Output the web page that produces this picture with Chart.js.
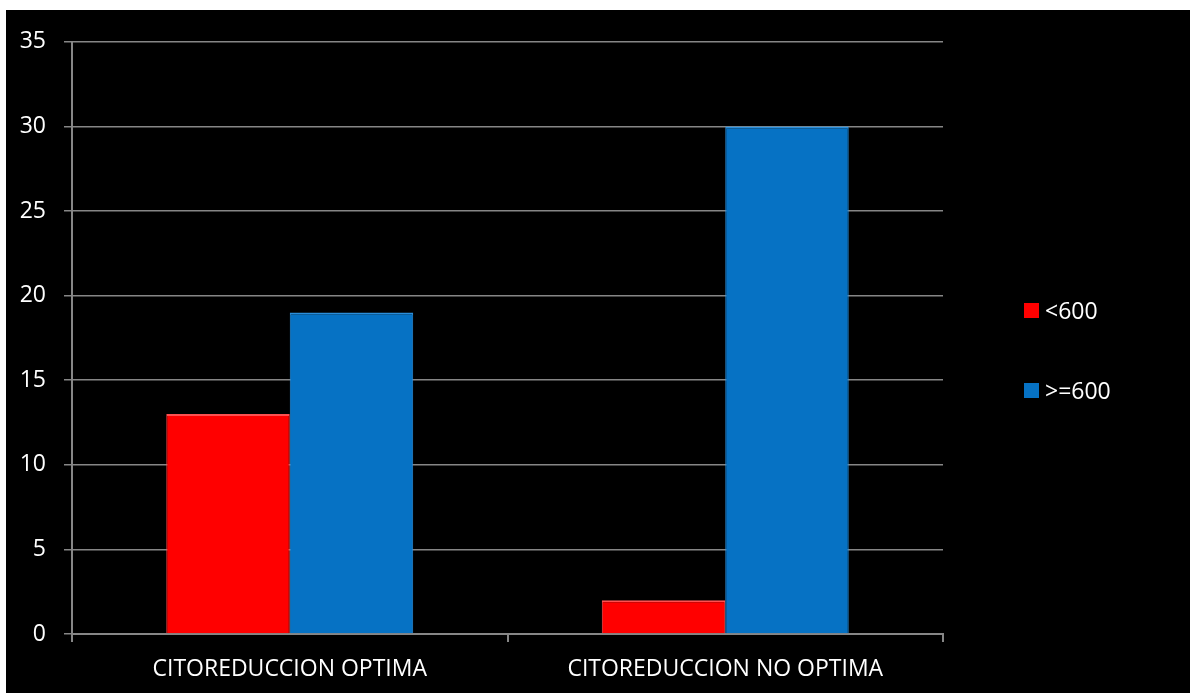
<!DOCTYPE html>
<html>
<head>
<meta charset="utf-8">
<script src="https://cdn.jsdelivr.net/npm/chart.js@4/dist/chart.umd.min.js"></script>
<style>
  html, body { margin: 0; padding: 0; background: #ffffff; width: 1190px; height: 693px; overflow: hidden; }
  #wrap { position: absolute; left: 6px; top: 10px; width: 1184px; height: 683px; background: #000000; }
  #c { position: absolute; left: 0; top: 0; }
  .leg { position: absolute; font-family: "Open Sans", sans-serif; font-size: 23px; color: #ffffff; line-height: 23px; white-space: nowrap; }
  .leg span.sw { position: absolute; left: 0; top: 4px; width: 15px; height: 15px; }
  .leg span.tx { position: absolute; left: 21px; top: 0; }
</style>
</head>
<body>
<div id="wrap">
  <canvas id="c" width="1184" height="683"></canvas>
</div>
<script>
const categories = ["CITOREDUCCION OPTIMA", "CITOREDUCCION NO OPTIMA"];
const seriesNames = ["<600", ">=600"];
const seriesLow = [13, 2];
const seriesHigh = [19, 30];
const seriesColors = ["#FF0000", "#0672C4"];
const yTicks = [0, 5, 10, 15, 20, 25, 30, 35];

const FONT = { family: "'Open Sans', sans-serif", size: 23 };
const GRID = "#868686";

new Chart(document.getElementById("c"), {
  type: "bar",
  data: {
    labels: categories,
    datasets: [
      { label: seriesNames[0], data: seriesLow, backgroundColor: seriesColors[0], borderColor: "#FF5050", borderWidth: { top: 2, left: 1, right: 1, bottom: 0 }, borderSkipped: false },
      { label: seriesNames[1], data: seriesHigh, backgroundColor: seriesColors[1], borderColor: "#2A8FDC", borderWidth: { top: 2, left: 1, right: 1, bottom: 0 }, borderSkipped: false }
    ]
  },
  options: {
    responsive: false,
    animation: false,
    layout: { padding: { left: 0, right: 247, top: 29, bottom: 0 } },
    plugins: { legend: { display: false }, tooltip: { enabled: false } },
    datasets: { bar: { categoryPercentage: 0.567, barPercentage: 1.0 } },
    scales: {
      x: {
        offset: true,
        grid: { offset: true, drawOnChartArea: false, drawTicks: true, tickLength: 8, color: GRID, lineWidth: 2 },
        border: { display: true, color: GRID, width: 2 },
        ticks: { color: "#ffffff", font: FONT, padding: 14, maxRotation: 0, autoSkip: false },
        afterFit: (s) => { s.height = 59; }
      },
      y: {
        min: 0, max: 35,
        afterBuildTicks: (s) => { s.ticks = yTicks.map(v => ({ value: v })); },
        grid: { drawOnChartArea: true, drawTicks: true, tickLength: 8, color: GRID, lineWidth: 1.5 },
        border: { display: true, color: GRID, width: 2 },
        ticks: { color: "#ffffff", font: FONT, padding: 18 },
        afterFit: (s) => { s.width = 66; }
      }
    }
  }
});

// HTML legend built from the series arrays
const wrap = document.getElementById("wrap");
const legTops = [289, 369];
seriesNames.forEach((name, i) => {
  const d = document.createElement("div");
  d.className = "leg";
  d.style.left = "1018px";
  d.style.top = legTops[i] + "px";
  const sw = document.createElement("span");
  sw.className = "sw";
  sw.style.background = seriesColors[i];
  const tx = document.createElement("span");
  tx.className = "tx";
  tx.textContent = name;
  d.appendChild(sw);
  d.appendChild(tx);
  wrap.appendChild(d);
});
</script>
</body>
</html>
